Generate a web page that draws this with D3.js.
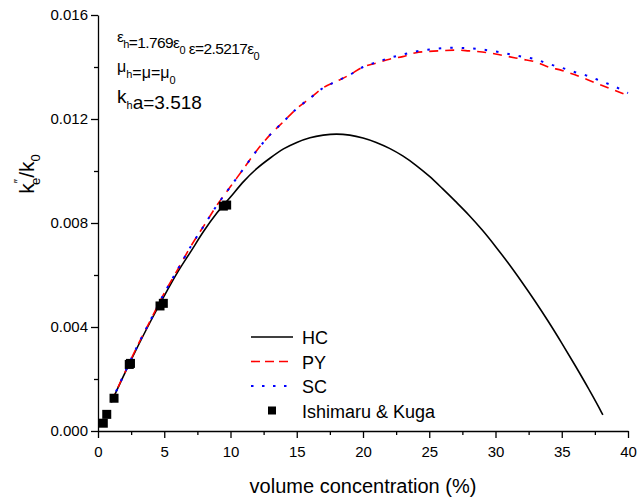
<!DOCTYPE html>
<html>
<head>
<meta charset="utf-8">
<script src="https://cdn.jsdelivr.net/npm/d3@7"></script>
<style>
  body { margin: 0; background: #fff; }
  svg { font-family: Arial, "Liberation Sans", sans-serif; }
</style>
</head>
<body>
<div id="chart"></div>
<script>
// volume concentration (%) for the computed curves
var hcX = [1,2,3,4,5,6,7,8,9,10,11,12,13,14,15,16,17,18,19,20,21,22,23,24,25,26,27,28,29,30,31,32,33,34,35,36,37,38,38.1];
var hcY = [0.00110,0.00220,0.00325,0.00425,0.0052,0.0061,0.0069,0.0077,0.0084,0.0090,0.0096,0.0101,0.0105,0.01085,0.0111,0.01128,0.01138,0.01142,0.01138,0.01127,0.0111,0.01087,0.01058,0.01022,0.0098,0.00932,0.00882,0.0083,0.00773,0.0071,0.00643,0.00572,0.00498,0.0042,0.00338,0.00253,0.00165,0.00072,0.00062];

var pyX = [1,2,3,4,5,6,7,8,9,10,11,12,13,14,15,16,17,18,19,20,21,22,23,24,25,26,27,28,29,30,31,32,33,34,35,36,37,38,39,40];
var pyY = [0.00112,0.00222,0.0033,0.0043,0.0053,0.0062,0.0071,0.0079,0.0087,0.0094,0.0101,0.0108,0.0114,0.0119,0.0124,0.0128,0.0132,0.01345,0.0137,0.0140,0.01415,0.0143,0.0144,0.01455,0.0146,0.01463,0.01465,0.01462,0.01458,0.0145,0.0144,0.0143,0.0142,0.0140,0.01387,0.0137,0.0135,0.0133,0.0131,0.0129];

var scX = pyX;
var scY = [0.00112,0.00222,0.0033,0.0043,0.0053,0.0062,0.0071,0.0079,0.0087,0.0094,0.0101,0.0108,0.0114,0.0119,0.0124,0.0128,0.0132,0.01345,0.0137,0.0140,0.01418,0.01435,0.01448,0.0146,0.01467,0.01472,0.01474,0.01472,0.01467,0.0146,0.0145,0.0144,0.0143,0.01412,0.01397,0.0138,0.01365,0.01345,0.01325,0.0130];

// Ishimaru & Kuga measurements
var expX = [0.4,0.66,1.21,2.36,2.45,4.68,4.93,9.46,9.71];
var expY = [0.0003,0.00064,0.00126,0.00256,0.0026,0.00481,0.00491,0.00865,0.00869];

var xTicks = [0,5,10,15,20,25,30,35,40];
var yTicks = [0.000,0.004,0.008,0.012,0.016];

var width = 637, height = 504;
var svg = d3.select("#chart").append("svg")
    .attr("width", width)
    .attr("height", height);

// plot area in pixels
var x = d3.scaleLinear().domain([0, 40]).range([98, 628]);
var y = d3.scaleLinear().domain([0, 0.016]).range([431, 15]);

function pairs(xs, ys) {
    return xs.map(function(v, i) { return [v, ys[i]]; });
}

// minor ticks
svg.append("g")
    .attr("transform", "translate(0," + y(0) + ")")
    .call(d3.axisBottom(x).tickValues(d3.range(2.5, 40, 5)).tickSize(4).tickFormat(""))
    .call(function(g) { g.select(".domain").remove(); });
svg.append("g")
    .attr("transform", "translate(" + x(0) + ",0)")
    .call(d3.axisLeft(y).tickValues(d3.range(0.002, 0.016, 0.004)).tickSize(4).tickFormat(""))
    .call(function(g) { g.select(".domain").remove(); });

// major axes
var xAxis = svg.append("g")
    .attr("transform", "translate(0," + y(0) + ")")
    .call(d3.axisBottom(x).tickValues(xTicks).tickSize(7).tickSizeOuter(0).tickFormat(d3.format("d")));
xAxis.selectAll("text").attr("font-size", 15).attr("dy", "1.05em").attr("fill", "#000");

var yAxis = svg.append("g")
    .attr("transform", "translate(" + x(0) + ",0)")
    .call(d3.axisLeft(y).tickValues(yTicks).tickSize(7).tickSizeOuter(0).tickFormat(d3.format(".3f")));
yAxis.selectAll("text").attr("font-size", 15).attr("fill", "#000");

svg.selectAll(".domain, .tick line").attr("stroke", "#000").attr("stroke-width", 1.3);

var line = d3.line()
    .x(function(d) { return x(d[0]); })
    .y(function(d) { return y(d[1]); })
    .curve(d3.curveMonotoneX);

svg.append("path")
    .datum(pairs(hcX, hcY))
    .attr("d", line)
    .attr("fill", "none")
    .attr("stroke", "#000")
    .attr("stroke-width", 1.6);

svg.append("path")
    .datum(pairs(pyX, pyY))
    .attr("d", line)
    .attr("fill", "none")
    .attr("stroke", "#ff0000")
    .attr("stroke-width", 1.6)
    .attr("stroke-dasharray", "9,7");

svg.append("path")
    .datum(pairs(scX, scY))
    .attr("d", line)
    .attr("fill", "none")
    .attr("stroke", "#0000ff")
    .attr("stroke-width", 2)
    .attr("stroke-dasharray", "2.5,9");

// measured points
var sq = 9;
svg.append("g").selectAll("rect")
    .data(pairs(expX, expY))
    .enter()
    .append("rect")
    .attr("x", function(d) { return x(d[0]) - sq / 2; })
    .attr("y", function(d) { return y(d[1]) - sq / 2; })
    .attr("width", sq)
    .attr("height", sq)
    .attr("fill", "#000");

// axis titles
svg.append("text")
    .attr("x", 363)
    .attr("y", 493)
    .attr("text-anchor", "middle")
    .attr("font-size", 20)
    .text("volume concentration (%)");

var yl = svg.append("text")
    .attr("transform", "translate(34,174) rotate(-90)")
    .attr("text-anchor", "middle")
    .attr("font-size", 21);
yl.append("tspan").text("k");
yl.append("tspan").attr("font-size", 12).attr("dy", -11).text("\u2033");
yl.append("tspan").attr("font-size", 13).attr("dx", -6).attr("dy", 17).text("e");
yl.append("tspan").attr("dy", -6).text("/k");
yl.append("tspan").attr("font-size", 13).attr("dy", 6).text("0");

// annotation
function sub(t, s) {
    t.append("tspan").attr("font-size", 11).attr("dy", 6).text(s);
    t.append("tspan").attr("dy", -6).text("");
}
var a1 = svg.append("text").attr("x", 117).attr("y", 42)
    .attr("font-size", 15.5).attr("letter-spacing", -0.6);
a1.append("tspan").text("\u03b5");
sub(a1, "h");
a1.append("tspan").text("=1.769\u03b5");
sub(a1, "0");
a1.append("tspan").text(" \u03b5=2.5217\u03b5");
sub(a1, "0");

var a2 = svg.append("text").attr("x", 117).attr("y", 72).attr("font-size", 16);
a2.append("tspan").text("\u03bc");
sub(a2, "h");
a2.append("tspan").text("=\u03bc=\u03bc");
sub(a2, "0");

var a3 = svg.append("text").attr("x", 117).attr("y", 103).attr("font-size", 19);
a3.append("tspan").text("k");
sub(a3, "h");
a3.append("tspan").text("a=3.518");

// legend
var legend = [
    {name: "HC", color: "#000", dash: null, w: 1.6},
    {name: "PY", color: "#ff0000", dash: "9,5", w: 1.6},
    {name: "SC", color: "#0000ff", dash: "2.5,8.5", w: 2},
    {name: "Ishimaru & Kuga", color: "#000", dash: null, w: 0}
];
var lg = svg.append("g");
legend.forEach(function(d, i) {
    var yy = 337 + i * 24.5;
    if (d.w > 0) {
        lg.append("line")
            .attr("x1", 251).attr("x2", 293)
            .attr("y1", yy).attr("y2", yy)
            .attr("stroke", d.color)
            .attr("stroke-width", d.w)
            .attr("stroke-dasharray", d.dash);
    } else {
        lg.append("rect")
            .attr("x", 268).attr("y", yy - 4)
            .attr("width", 8).attr("height", 8)
            .attr("fill", "#000");
    }
    lg.append("text")
        .attr("x", 302).attr("y", yy + 7)
        .attr("font-size", 18)
        .text(d.name);
});
</script>
</body>
</html>
